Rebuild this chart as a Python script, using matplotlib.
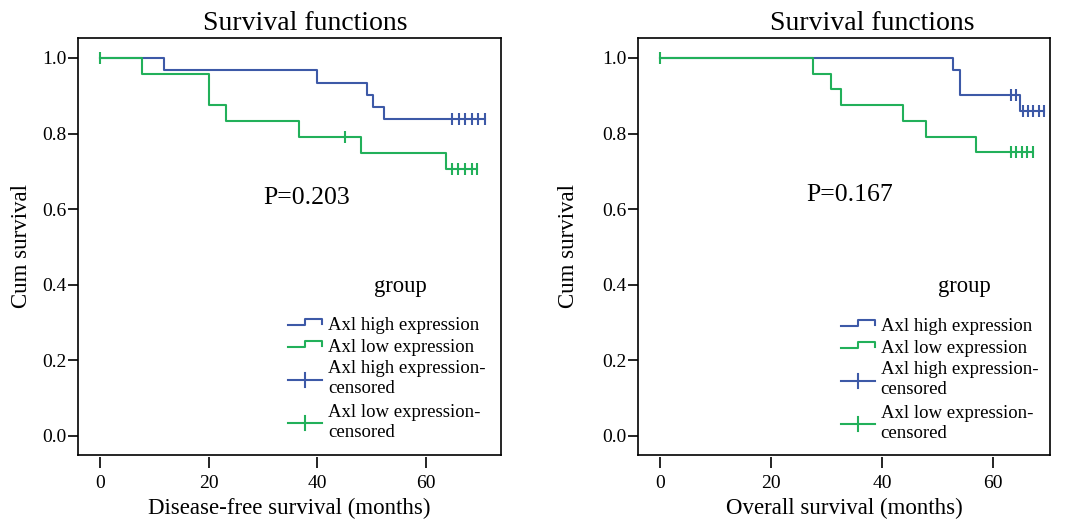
import numpy as np
import matplotlib.pyplot as plt
from matplotlib.ticker import FormatStrFormatter

plt.rcParams['font.family'] = ['Liberation Serif', 'DejaVu Serif']

BLUE = '#3d59a7'
GREEN = '#22b05a'

# disease-free survival (months), step levels and censored times
dfs_high_t = [0, 11.8, 39.9, 49.1, 50.2, 52.3]
dfs_high_s = [1.0, 0.968, 0.935, 0.903, 0.871, 0.839]
dfs_high_c = [64.7, 66.0, 67.2, 68.4, 69.6, 70.9]
dfs_low_t = [0, 7.8, 20.1, 23.2, 36.7, 48.0, 63.7]
dfs_low_s = [1.0, 0.958, 0.875, 0.833, 0.792, 0.748, 0.706]
dfs_low_c = [0, 45.1, 64.7, 65.9, 67.2, 68.4, 69.3]

# overall survival
os_high_t = [0, 52.8, 54.0, 64.8]
os_high_s = [1.0, 0.968, 0.903, 0.861]
os_high_c = [63.1, 64.1, 65.3, 66.2, 67.2, 68.2, 69.2]
os_low_t = [0, 27.5, 30.7, 32.6, 43.8, 47.8, 56.9]
os_low_s = [1.0, 0.958, 0.917, 0.875, 0.833, 0.792, 0.750]
os_low_c = [0, 63.1, 64.1, 65.1, 66.1, 67.2]

p_values = ['P=0.203', 'P=0.167']
xlabels = ['Disease-free survival (months)', 'Overall survival (months)']
legend_labels = [['Axl high expression'], ['Axl low expression'],
                 ['Axl high expression-', 'censored'],
                 ['Axl low expression-', 'censored']]


def surv_at(t, times, surv):
    idx = np.searchsorted(times, t, side='right') - 1
    return np.array(surv)[idx]


def km(ax, times, surv, cens, color):
    end = max(cens)
    ax.step(list(times) + [end], list(surv) + [surv[-1]], where='post',
            color=color, lw=1.5)
    ax.plot(cens, surv_at(cens, times, surv), ls='none', marker='|',
            ms=9, mew=1.5, color=color)


def setup(ax, xlim, xlabel, ylab_x):
    ax.set_xlim(xlim)
    ax.set_ylim(-0.0503, 1.0529)
    ax.set_xticks([0, 20, 40, 60])
    ax.set_yticks(np.arange(0, 1.01, 0.2))
    ax.yaxis.set_major_formatter(FormatStrFormatter('%.1f'))
    for s in ax.spines.values():
        s.set_linewidth(1.2)
    # SPSS style: x ticks hang a little below the frame
    ax.spines['bottom'].set_position(('outward', 1.5))
    ax.spines['bottom'].set_visible(False)
    ax.plot([0, 1], [0, 0], transform=ax.transAxes, color='black', lw=1.2,
            clip_on=False)
    ax.tick_params(axis='x', length=8, width=1.2, pad=5, labelsize=14)
    ax.tick_params(axis='y', length=7, width=1.2, pad=1.5, labelsize=14)
    ax.set_xlabel(xlabel, fontsize=16.5)
    ax.xaxis.set_label_coords(0.5, -0.103)
    ax.set_ylabel('Cum survival', fontsize=16.5)
    ax.yaxis.set_label_coords(ylab_x, 0.5)


fig = plt.figure(figsize=(10.68, 5.30), dpi=100)
ax1 = fig.add_axes([78 / 1068, 75 / 530, 423 / 1068, 417 / 530])
ax2 = fig.add_axes([638 / 1068, 75 / 530, 412 / 1068, 417 / 530])

km(ax1, dfs_high_t, dfs_high_s, dfs_high_c, BLUE)
km(ax1, dfs_low_t, dfs_low_s, dfs_low_c, GREEN)
km(ax2, os_high_t, os_high_s, os_high_c, BLUE)
km(ax2, os_low_t, os_low_s, os_low_c, GREEN)

setup(ax1, (-4.05, 73.8), xlabels[0], -0.109)
setup(ax2, (-3.96, 70.2), xlabels[1], -0.143)

# overlay in pixel coordinates for the free text and the legend
ov = fig.add_axes([0, 0, 1, 1])
ov.set_xlim(0, 1068)
ov.set_ylim(530, 0)
ov.axis('off')

for cx in (305, 872.5):
    ov.text(cx, 30, 'Survival functions', fontsize=20, ha='center', va='baseline')

for (px, py), p in zip([(263, 204), (806.7, 201)], p_values):
    ov.text(px, py, p, fontsize=18.5, ha='left', va='baseline')

for px in (374, 937.7):
    ov.text(px, 292, 'group', fontsize=16.3, ha='left', va='baseline')


def draw_legend(x0, y0):
    w = 34
    # step symbols for the curves
    for dy, col in ((0, BLUE), (22, GREEN)):
        ov.plot([x0, x0 + w / 2, x0 + w / 2, x0 + w, x0 + w],
                [y0 + dy, y0 + dy, y0 + dy - 5.7, y0 + dy - 5.7, y0 + dy - 1],
                color=col, lw=1.5)
    # censor symbols
    for dy, col in ((54.5, BLUE), (97.7, GREEN)):
        ov.plot([x0, x0 + w], [y0 + dy, y0 + dy], color=col, lw=1.5)
        ov.plot([x0 + w / 2, x0 + w / 2], [y0 + dy - 7, y0 + dy + 7],
                color=col, lw=1.5)
    base = [[5], [27], [48, 68], [92, 112]]
    for lines, offs in zip(legend_labels, base):
        for txt, dy in zip(lines, offs):
            ov.text(x0 + 40, y0 + dy, txt, fontsize=13.5, ha='left',
                    va='baseline')


draw_legend(288.3, 325)
draw_legend(840.7, 326)

fig.savefig('out.png', dpi=100)
